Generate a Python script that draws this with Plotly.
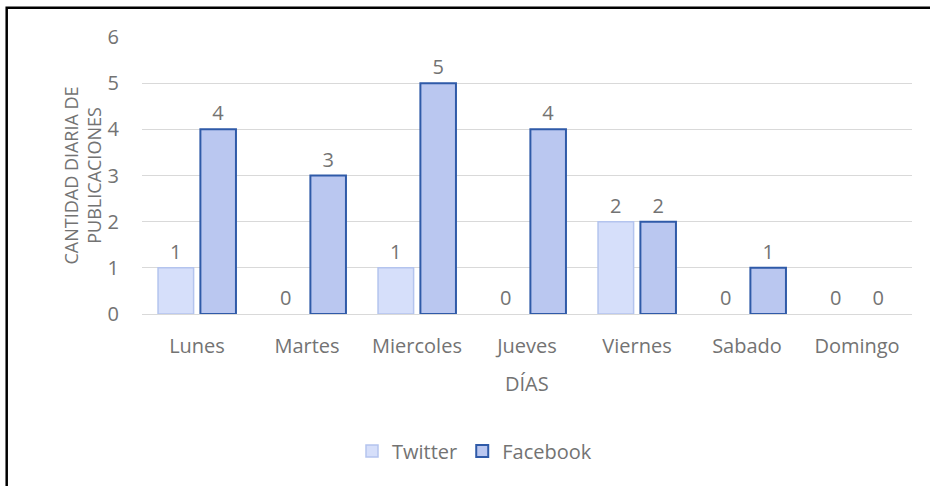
import plotly.graph_objects as go

dias = ["Lunes", "Martes", "Miercoles", "Jueves", "Viernes", "Sabado", "Domingo"]
twitter = [1, 0, 1, 0, 2, 0, 0]
facebook = [4, 3, 5, 4, 2, 1, 0]

FONT = "Open Sans"
GRAY = "#737373"
FS = 20

fig = go.Figure()
fig.add_trace(go.Bar(
    name="Twitter", x=dias, y=twitter,
    marker=dict(color="#d6dffa",
                line=dict(color="#b4c4ee", width=[1.5 if v else 0 for v in twitter])),
    text=[str(v) for v in twitter], textposition="outside",
    textfont=dict(family=FONT, size=FS, color=GRAY), cliponaxis=False,
))
fig.add_trace(go.Bar(
    name="Facebook", x=dias, y=facebook,
    marker=dict(color="#bac7f0",
                line=dict(color="#2f5aa8", width=[2 if v else 0 for v in facebook])),
    text=[str(v) for v in facebook], textposition="outside",
    textfont=dict(family=FONT, size=FS, color=GRAY), cliponaxis=False,
))

fig.update_layout(
    width=930, height=486,
    margin=dict(l=142, r=18, t=37, b=172),
    paper_bgcolor="white", plot_bgcolor="white",
    font=dict(family=FONT, size=FS, color=GRAY),
    barmode="group", bargap=0.23, bargroupgap=0.16,
    showlegend=True,
    legend=dict(orientation="h", x=(352 - 142) / 770, xanchor="left", y=-0.495, yanchor="middle",
                font=dict(family=FONT, size=FS, color=GRAY), itemwidth=30,
                traceorder="normal"),
    xaxis=dict(showgrid=False, showline=False, ticks="outside", ticklen=14,
               tickcolor="rgba(0,0,0,0)", tickfont=dict(size=FS, color=GRAY),
               zeroline=False),
    yaxis=dict(range=[0, 6], dtick=1, showgrid=True, gridcolor="#d9d9d9", gridwidth=1,
               zeroline=True, zerolinecolor="#d9d9d9", zerolinewidth=1,
               showline=False, ticklabelstandoff=22, tickfont=dict(size=FS, color=GRAY)),
    annotations=[
        dict(text="DÍAS", xref="paper", yref="paper", x=0.5, y=(314 - 383) / 277,
             showarrow=False, xanchor="center", yanchor="middle",
             font=dict(family=FONT, size=FS, color=GRAY)),
        dict(text="CANTIDAD DIARIA DE<br>PUBLICACIONES", xref="paper", yref="paper",
             x=(82 - 142) / 770, y=0.5, textangle=-90, showarrow=False,
             xanchor="center", yanchor="middle",
             font=dict(family=FONT, size=18, color=GRAY)),
    ],
    shapes=[dict(type="rect", xref="paper", yref="paper",
                 x0=(6.7 - 142) / 770, x1=1.2, y0=-1.0, y1=(314 - 7.8) / 277,
                 line=dict(color="black", width=2.5), fillcolor="rgba(0,0,0,0)",
                 layer="above")],
)

fig.write_html("out.html")
